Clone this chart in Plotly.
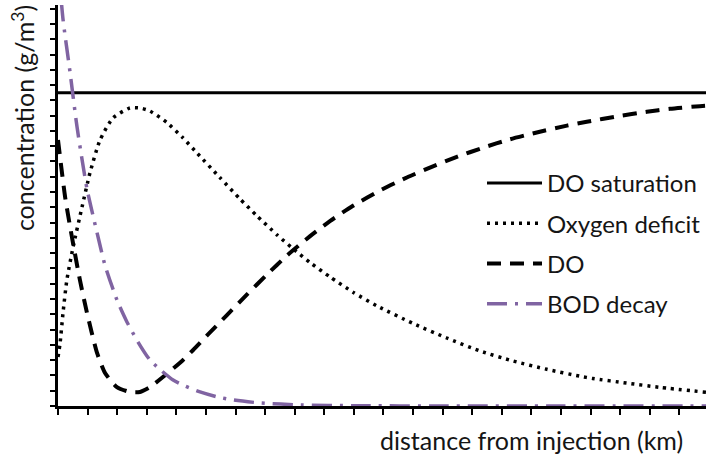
import plotly.graph_objects as go

# ---- data ----
x_max = 21.9
y_max = 26.24

sat_x = [0, 21.9]
sat_y = [20.5, 20.5]

deficit_x = [0, 0.07, 0.17, 0.30, 0.51, 0.81, 1.08, 1.42, 1.86, 2.43, 2.77, 3.11, 3.68,
             4.22, 4.70, 5.47, 6.15, 6.72, 7.40, 7.94, 8.51, 9.19, 9.97, 10.78, 12.0,
             13.14, 14.26, 15.37, 16.52, 17.64, 18.07, 19.22, 20.34, 21.9]
deficit_y = [3.2, 4.1, 6.1, 8.25, 10.4, 13.0, 15.25, 17.4, 18.85, 19.5, 19.5, 19.3, 18.55,
             17.55, 16.55, 14.95, 13.55, 12.45, 11.2, 10.3, 9.4, 8.45, 7.45, 6.55, 5.4,
             4.45, 3.6, 2.95, 2.4, 1.95, 1.8, 1.5, 1.22, 0.9]

do_x = [0, 0.24, 0.47, 0.74, 0.98, 1.32, 1.59, 1.99, 2.43, 2.77, 3.11, 3.61, 4.22, 4.56,
        5.03, 5.71, 6.39, 7.06, 7.74, 8.51, 9.19, 9.97, 10.88, 11.79, 12.57, 13.48,
        14.36, 15.27, 16.18, 17.20, 17.87, 18.89, 19.90, 20.68, 21.69, 21.9]
do_y = [17.4, 13.68, 11.06, 8.25, 6.09, 3.47, 2.16, 1.24, 0.92, 0.92, 1.24, 2.0, 3.0, 3.65,
        4.6, 5.95, 7.3, 8.6, 9.85, 11.1, 12.1, 13.1, 14.1, 14.95, 15.6, 16.3,
        16.9, 17.45, 17.9, 18.35, 18.6, 18.95, 19.25, 19.45, 19.62, 19.65]

bod_x = [0, 0.17, 0.41, 0.64, 0.98, 1.3, 1.59, 2.0, 2.33, 2.7, 3.11, 3.5, 3.89, 4.3,
         4.8, 5.37, 5.91, 6.82, 8.2, 10, 13, 17, 21.9]
bod_y = [29, 25.3, 21.8, 18.3, 14.2, 11.5, 9.2, 6.9, 5.5, 4.2, 3.0, 2.3, 1.7, 1.3,
         0.92, 0.6, 0.4, 0.2, 0.07, 0.02, 0, 0, 0]

names = ["DO saturation", "Oxygen deficit", "DO", "BOD decay"]
y_title = "concentration (g/m<sup>3</sup>)"
x_title = "distance from injection (km)"

FONT = "Lato, 'Open Sans', sans-serif"
TXT = "#151515"
PURPLE = "#8064A2"

fig = go.Figure()
fig.add_trace(go.Scatter(x=sat_x, y=sat_y, mode="lines", name=names[0], legendgroup="a",
                         line=dict(color="black", width=3)))
fig.add_trace(go.Scatter(x=deficit_x, y=deficit_y, mode="lines", name=names[1], legendgroup="b",
                         line=dict(color="black", width=3.5, dash="3px,5px", shape="spline", smoothing=0.6)))
fig.add_trace(go.Scatter(x=do_x, y=do_y, mode="lines", name=names[2], legendgroup="c",
                         line=dict(color="black", width=4, dash="14px,9px", shape="spline", smoothing=0.6)))
fig.add_trace(go.Scatter(x=bod_x, y=bod_y, mode="lines", name=names[3], legendgroup="d",
                         line=dict(color=PURPLE, width=3.5, dash="20px,8px,3px,8px", shape="spline", smoothing=0.6)))

fig.update_layout(
    width=706, height=457,
    margin=dict(l=58, r=0, t=5, b=51),
    paper_bgcolor="white", plot_bgcolor="white",
    font=dict(family=FONT, color=TXT),
    showlegend=True,
    legend=dict(x=1.0, y=0.611, xanchor="right", yanchor="top",
                font=dict(size=24, family=FONT, color=TXT),
                bgcolor="rgba(0,0,0,0)", borderwidth=0, traceorder="grouped", tracegroupgap=6,
                itemwidth=55),
    xaxis=dict(range=[0, x_max], showgrid=False, zeroline=False, showline=True,
               linecolor="black", linewidth=3, ticks="outside", ticklen=6, tickwidth=2,
               tickcolor="black", dtick=1, tick0=0, showticklabels=False, fixedrange=True),
    yaxis=dict(range=[0, y_max], showgrid=False, zeroline=False, showline=True,
               linecolor="black", linewidth=3, ticks="outside", ticklen=5, tickwidth=2,
               tickcolor="black", dtick=1, tick0=0, showticklabels=False, fixedrange=True),
    annotations=[
        dict(text=y_title, xref="paper", yref="paper", x=-0.054, y=0.718,
             xanchor="center", yanchor="middle", textangle=-90, showarrow=False,
             font=dict(size=25, family=FONT, color=TXT)),
        dict(text=x_title, xref="paper", yref="paper", x=0.494, y=-0.085,
             xanchor="left", yanchor="middle", showarrow=False,
             font=dict(size=25, family=FONT, color=TXT)),
    ],
)

fig.write_html("out.html", config={"displayModeBar": False},
               post_script="document.body.style.margin='0';document.body.style.padding='0';"
                           "document.body.style.overflow='hidden';")
